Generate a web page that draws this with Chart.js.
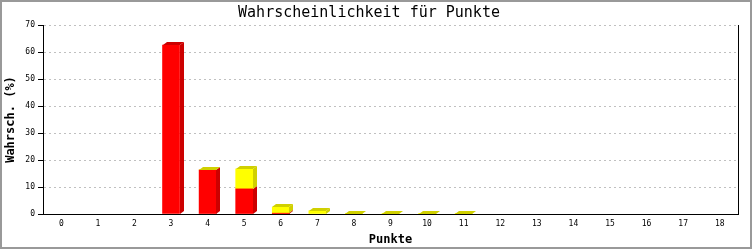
<!DOCTYPE html>
<html>
<head>
<meta charset="utf-8">
<script src="https://cdn.jsdelivr.net/npm/chart.js@4/dist/chart.umd.min.js"></script>
<style>
  body { margin: 0; background: #fff; }
  #wrap { width: 753px; height: 250px; }
</style>
</head>
<body>
<div id="wrap"><canvas id="myChart" width="753" height="250"></canvas></div>
<script>
"use strict";

const labels = ["0", "1", "2", "3", "4", "5", "6", "7", "8", "9", "10", "11", "12", "13", "14", "15", "16", "17", "18"];
const redValues = [null, null, null, 62.6, 16.3, 9.3, 0.3, null, null, null, null, null, null, null, null, null, null, null, null];
const yellowValues = [null, null, null, null, 0, 7.4, 2.2, 1.2, 0.1, 0.1, 0.1, 0.1, null, null, null, null, null, null, null];
const yTicks = [0, 10, 20, 30, 40, 50, 60, 70];

const mono = "'DejaVu Sans Mono', 'Liberation Mono', monospace";
const dx = 4, dy = 3; // depth of the 3d look

// side + top faces, positions come from the bar elements
const bar3d = {
  id: "bar3d",
  afterDatasetsDraw(chart) {
    const ctx = chart.ctx;
    const metas = chart.getSortedVisibleDatasetMetas();
    ctx.save();
    metas.forEach((meta, di) => {
      const ds = chart.data.datasets[meta.index];
      meta.data.forEach((bar, i) => {
        const v = ds.data[i];
        if (v === null || v === undefined) return;
        const p = bar.getProps(["x", "y", "base", "width"], true);
        const l = Math.round(p.x - p.width / 2), r = Math.round(p.x + p.width / 2);
        const top = Math.round(p.y), base = Math.round(p.base);
        ctx.fillStyle = ds.sideColor;
        ctx.beginPath();
        ctx.moveTo(r, top);
        ctx.lineTo(r + dx, top - dy);
        ctx.lineTo(r + dx, base - dy);
        ctx.lineTo(r, base);
        ctx.closePath();
        ctx.fill();
        const above = metas.slice(di + 1).some(m => {
          const val = chart.data.datasets[m.index].data[i];
          return val !== null && val !== undefined;
        });
        if (!above) {
          ctx.beginPath();
          ctx.moveTo(l, top);
          ctx.lineTo(l + dx, top - dy);
          ctx.lineTo(r + dx, top - dy);
          ctx.lineTo(r, top);
          ctx.closePath();
          ctx.fill();
        }
      });
    });
    ctx.restore();
  },
  afterDraw(chart) {
    const ctx = chart.ctx, a = chart.chartArea;
    ctx.save();
    // right frame line of the plot
    ctx.strokeStyle = "#000";
    ctx.lineWidth = 1;
    ctx.beginPath();
    ctx.moveTo(Math.round(a.right) + 0.5, a.top);
    ctx.lineTo(Math.round(a.right) + 0.5, a.bottom);
    ctx.stroke();
    // outer gray border
    ctx.strokeStyle = "#999";
    ctx.lineWidth = 2;
    ctx.strokeRect(1, 1, chart.width - 3, chart.height - 3);
    ctx.restore();
  }
};

new Chart(document.getElementById("myChart"), {
  type: "bar",
  data: {
    labels: labels,
    datasets: [
      { label: "rot", data: redValues, backgroundColor: "#ff0000", sideColor: "#cc0000", barThickness: 17 },
      { label: "gelb", data: yellowValues, backgroundColor: "#ffff00", sideColor: "#d0d000", barThickness: 17 }
    ]
  },
  options: {
    responsive: false,
    animation: false,
    layout: { padding: { left: 0, right: 15, top: 0, bottom: 0 } },
    plugins: {
      legend: { display: false },
      tooltip: { enabled: false },
      title: {
        display: true,
        text: "Wahrscheinlichkeit für Punkte",
        color: "#000",
        font: { family: mono, size: 15, weight: "normal" },
        padding: { top: 4, bottom: 3 }
      }
    },
    scales: {
      x: {
        stacked: true,
        grid: { display: false, drawTicks: false },
        border: { color: "#000", width: 1 },
        ticks: { color: "#000", font: { family: mono, size: 8 }, padding: 5, autoSkip: false, maxRotation: 0 },
        title: { display: true, text: "Punkte", color: "#000", font: { family: mono, size: 12, weight: "bold" }, padding: { top: 0, bottom: 3 } },
        afterFit(scale) { scale.height = 36; }
      },
      y: {
        stacked: true,
        min: 0,
        max: 70,
        afterBuildTicks(scale) { scale.ticks = yTicks.map(v => ({ value: v })); },
        grid: { color: "#c0c0c0", tickColor: "#000", tickLength: 5, drawTicks: true },
        border: { color: "#000", width: 1, dash: [2, 3] },
        ticks: { color: "#000", font: { family: mono, size: 8 }, padding: 3 },
        title: { display: true, text: "Wahrsch. (%)", color: "#000", font: { family: mono, size: 12, weight: "bold" }, padding: { top: 4, bottom: 0 } },
        afterFit(scale) { scale.width = 43; }
      }
    }
  },
  plugins: [bar3d]
});
</script>
</body>
</html>
